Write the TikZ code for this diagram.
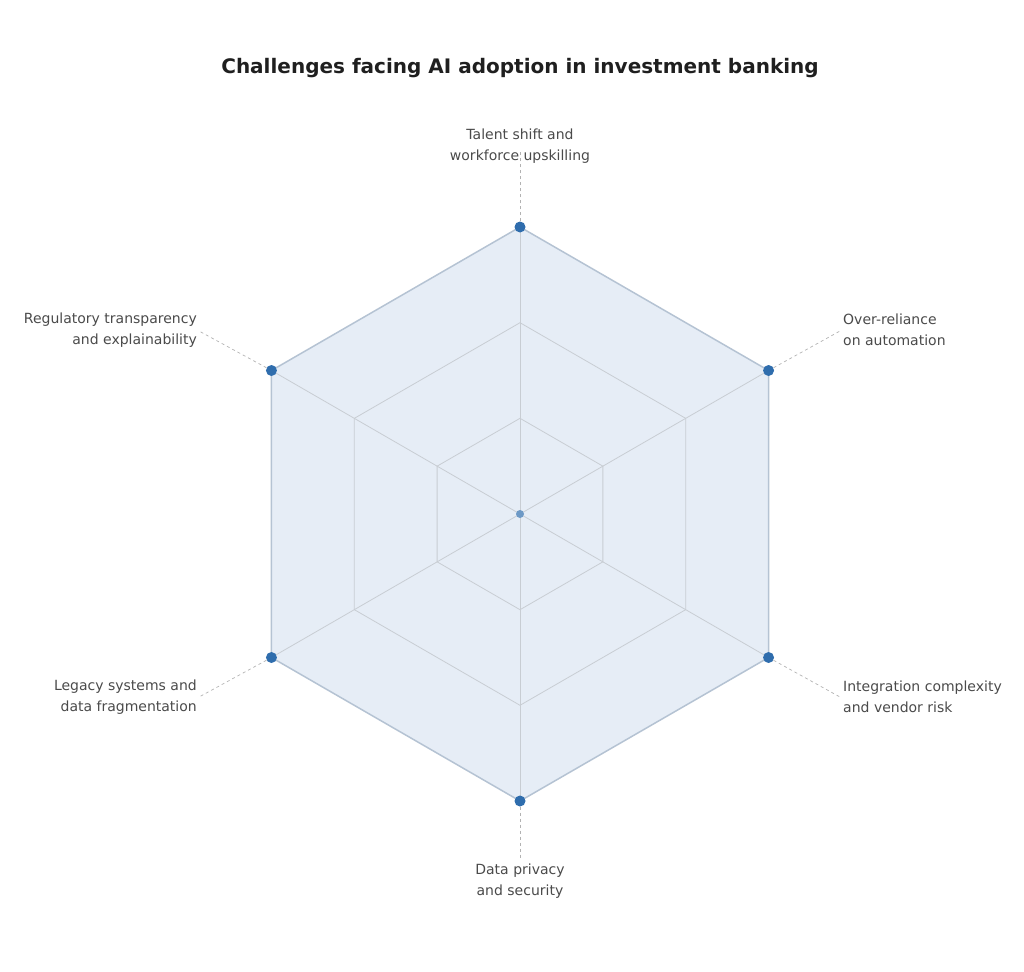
\documentclass[tikz,border=0pt]{standalone}
\usepackage{fontspec}
\setmainfont{DejaVu Sans}
\usetikzlibrary{calc}
\definecolor{fillc}{HTML}{E6EDF6}
\definecolor{edgec}{HTML}{B5C3D3}
\definecolor{dotc}{HTML}{2F6DAD}
\definecolor{gridc}{HTML}{C8CDD3}
\definecolor{txtc}{HTML}{4A4A4A}
\definecolor{titc}{HTML}{1F1F1F}
\tikzset{
  vdot/.style={circle,fill=dotc,inner sep=0pt,minimum size=11pt},
  lbl/.style={text=txtc,font=\fontsize{14}{21}\selectfont,inner sep=0pt},
  leader/.style={draw=gray!60,dashed,line width=0.7pt},
  grid/.style={draw=gridc,line width=0.8pt}
}
\begin{document}
\begin{tikzpicture}[x=1pt,y=-1pt]
\useasboundingbox (0,0) rectangle (1024,971);
\coordinate (c) at (520,514);
\foreach \a in {90,30,-30,-90,-150,150}{
  \coordinate (o\a) at ($(c)+({287*cos(\a)},{-287*sin(\a)})$);
}
\fill[fillc] (o90)--(o30)--(o-30)--(o-90)--(o-150)--(o150)--cycle;
\foreach \r in {95.7,191.3}{
  \draw[grid] ($(c)+({\r*cos(90)},{-\r*sin(90)})$)--($(c)+({\r*cos(30)},{-\r*sin(30)})$)--($(c)+({\r*cos(-30)},{-\r*sin(-30)})$)--($(c)+({\r*cos(-90)},{-\r*sin(-90)})$)--($(c)+({\r*cos(-150)},{-\r*sin(-150)})$)--($(c)+({\r*cos(150)},{-\r*sin(150)})$)--cycle;
}
\foreach \a in {90,30,-30,-90,-150,150}{\draw[grid] (c)--(o\a);}
\draw[draw=edgec,line width=1.5pt] (o90)--(o30)--(o-30)--(o-90)--(o-150)--(o150)--cycle;
\node[circle,fill=dotc!70,inner sep=0pt,minimum size=8pt] (cd) at (c) {};
\node[vdot] (v1) at (o90) {};
\node[vdot] (v2) at (o30) {};
\node[vdot] (v3) at (o-30) {};
\node[vdot] (v4) at (o-90) {};
\node[vdot] (v5) at (o-150) {};
\node[vdot] (v6) at (o150) {};
\node[font=\bfseries\fontsize{20}{24}\selectfont,text=titc] (title) at (520,68) {Challenges facing AI adoption in investment banking};
\node[lbl,align=center] (l1) at (520,146) {Talent shift and\\workforce upskilling};
\node[lbl,align=left,anchor=west] (l2) at (843,330) {Over-reliance\\on automation};
\node[lbl,align=left,anchor=west] (l3) at (843,697) {Integration complexity\\and vendor risk};
\node[lbl,align=center] (l4) at (520,881) {Data privacy\\and security};
\node[lbl,align=right,anchor=east] (l5) at (197,697) {Legacy systems and\\data fragmentation};
\node[lbl,align=right,anchor=east] (l6) at (197,330) {Regulatory transparency\\and explainability};
\coordinate (e1) at (520,150);
\coordinate (e2) at (840,331);
\coordinate (e3) at (840,697);
\coordinate (e4) at (520,860);
\coordinate (e5) at (199,697);
\coordinate (e6) at (199,331);
\draw[leader] (v1)--(e1);
\draw[leader] (v2)--(e2);
\draw[leader] (v3)--(e3);
\draw[leader] (v4)--(e4);
\draw[leader] (v5)--(e5);
\draw[leader] (v6)--(e6);
\end{tikzpicture}
\end{document}
